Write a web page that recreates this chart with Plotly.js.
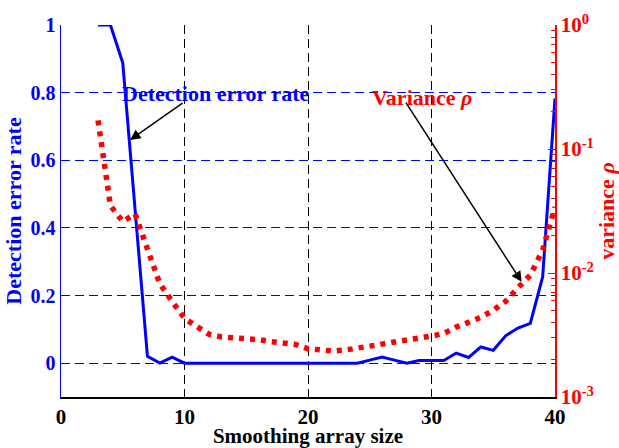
<!DOCTYPE html>
<html>
<head>
<meta charset="utf-8">
<script src="https://cdn.plot.ly/plotly-3.0.1.min.js"></script>
<style>html,body{margin:0;padding:0;background:#fff;}#chart{width:619px;height:448px;}</style>
</head>
<body>
<div id="chart"></div>
<script>
// Smoothing array sizes
const arraySize = [3,4,5,6,7,8,9,10,11,12,13,14,15,16,17,18,19,20,21,22,23,24,25,26,27,28,29,30,31,32,33,34,35,36,37,38,39,40];
// Detection error rate (left axis)
const errorRate = [1,1,0.888,0.454,0.02,0,0.018,0,0,0,0,0,0,0,0,0,0,0,0,0,0,0,0.009,0.018,0.009,0,0.008,0.008,0.008,0.03,0.017,0.048,0.038,0.081,0.104,0.118,0.255,0.783];
// Variance rho (right log axis)
const varianceRho = [0.17,0.035,0.026,0.030,0.0156,0.0082,0.0059,0.0043,0.0037,0.0032,0.00305,0.0030,0.0030,0.0029,0.0028,0.0027,0.00265,0.00245,0.00237,0.00235,0.00239,0.0025,0.00258,0.00267,0.00278,0.00286,0.00297,0.0031,0.00325,0.00367,0.0040,0.0044,0.0050,0.0059,0.0076,0.0096,0.0153,0.034];
// Tick labels
const xTicks = [0,10,20,30,40];
const xTickText = ['<b>0</b>','<b>10</b>','<b>20</b>','<b>30</b>','<b>40</b>'];
const leftTicks = [0,0.2,0.4,0.6,0.8,1];
const leftTickText = ['<b>0</b>','<b>0.2</b>','<b>0.4</b>','<b>0.6</b>','<b>0.8</b>','<b>1</b>'];
const rightTicks = [0.001,0.01,0.1,1];
const rightTickText = ['<b>10<sup>-3</sup></b>','<b>10<sup>-2</sup></b>','<b>10<sup>-1</sup></b>','<b>10<sup>0</sup></b>'];

const minorTicks = [];
for (let d = 0.001; d < 1; d *= 10) for (let m = 2; m <= 9; m++) minorTicks.push(+(d*m).toPrecision(3));

const FONT = 'Liberation Serif';

const traces = [
  {x: arraySize, y: errorRate, type: 'scatter', mode: 'lines', yaxis: 'y',
   line: {color: '#0000ff', width: 3}, name: 'Detection error rate'},
  {x: arraySize, y: varianceRho, type: 'scatter', mode: 'lines', yaxis: 'y2',
   line: {color: '#ff0000', width: 5.5, dash: '5px,6px'}, name: 'Variance ρ'}
];

const layout = {
  width: 619, height: 448,
  margin: {l: 61, r: 64, t: 25, b: 51},
  paper_bgcolor: '#ffffff', plot_bgcolor: '#ffffff',
  showlegend: false,
  font: {family: FONT, size: 21},
  xaxis: {
    range: [0, 40], tickvals: xTicks, ticktext: xTickText, ticks: 'inside', ticklen: 5, tickcolor: '#000',
    showline: true, linecolor: '#000', linewidth: 1.5,
    showgrid: true, gridcolor: '#000000', griddash: '9px,5px', gridwidth: 1,
    zeroline: false,
    tickfont: {family: FONT, size: 21, color: '#000'},
    title: {text: '<b>Smoothing array size</b>', font: {family: FONT, size: 21, color: '#000'}, standoff: 3}
  },
  yaxis: {
    range: [-0.1, 1], tickvals: leftTicks, ticktext: leftTickText,
    ticks: 'inside', ticklen: 5, tickcolor: '#0000ff',
    showline: true, linecolor: '#0000ff', linewidth: 1.5,
    showgrid: true, gridcolor: '#0000ff', griddash: '9px,5px', gridwidth: 1,
    zeroline: false,
    tickfont: {family: FONT, size: 20, color: '#0000ff'},
    title: {text: '<b>Detection error rate</b>', font: {family: FONT, size: 22, color: '#0000ff'}, standoff: 3}
  },
  yaxis2: {
    type: 'log', range: [-3, 0], overlaying: 'y', side: 'right',
    tickvals: rightTicks, ticktext: rightTickText,
    ticks: 'inside', ticklen: 7, tickcolor: '#ff0000',
    minor: {tickmode: 'array', tickvals: minorTicks, ticks: 'inside', ticklen: 4, tickcolor: '#ff0000', showgrid: false},
    showline: true, linecolor: '#ff0000', linewidth: 1.5,
    showgrid: false, zeroline: false,
    tickfont: {family: FONT, size: 21, color: '#ff0000'},
    title: {text: '<b>variance <i>ρ</i></b>', font: {family: FONT, size: 22, color: '#ff0000'}, standoff: 1}
  },
  annotations: [
    {x: 5.59, y: 0.66, xref: 'x', yref: 'y', ax: 9.96, ay: 0.772, axref: 'x', ayref: 'y',
     showarrow: true, arrowhead: 2, arrowsize: 1.4, arrowwidth: 1.5, arrowcolor: '#000', text: ''},
    {x: 12.55, y: 0.796, xref: 'x', yref: 'y', showarrow: false, text: '<b>Detection error rate</b>',
     font: {family: FONT, size: 22, color: '#0000ff'}},
    {x: 37.3, y: 0.2405, xref: 'x', yref: 'y', ax: 27.85, ay: 0.775, axref: 'x', ayref: 'y',
     showarrow: true, arrowhead: 2, arrowsize: 1.4, arrowwidth: 1.5, arrowcolor: '#000', text: ''},
    {x: 29.2, y: 0.787, xref: 'x', yref: 'y', showarrow: false, text: '<b>Variance <i>ρ</i></b>',
     font: {family: FONT, size: 22, color: '#ff0000'}}
  ]
};

Plotly.newPlot('chart', traces, layout, {displayModeBar: false, staticPlot: true});
</script>
</body>
</html>
